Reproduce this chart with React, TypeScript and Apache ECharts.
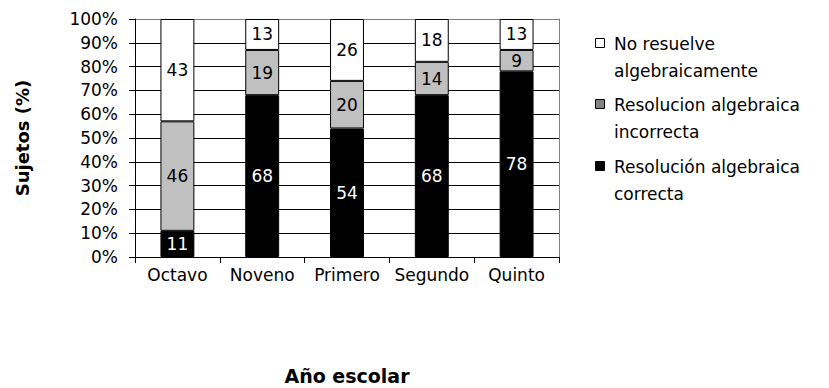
import React, { useEffect, useRef } from "react";
import * as echarts from "echarts";

// School years on the category axis
const categories = ["Octavo", "Noveno", "Primero", "Segundo", "Quinto"];

// Percentage of subjects per answer type, stacked from the bottom up
const correcta = [11, 68, 54, 68, 78];
const incorrecta = [46, 19, 20, 14, 9];
const noResuelve = [43, 13, 26, 18, 13];

// Legend entries, listed top to bottom
const legendNames = [
  ["No resuelve", "algebraicamente"],
  ["Resolucion algebraica", "incorrecta"],
  ["Resolución algebraica", "correcta"],
];
const legendColors = ["#ffffff", "#808080", "#000000"];

const yTicks = [0, 100, 10];

const FONT = "DejaVu Sans";

export default function App() {
  const ref = useRef<HTMLDivElement>(null);

  useEffect(() => {
    document.body.style.margin = "0";
    const chart = echarts.init(ref.current!, null, { renderer: "svg" });

    const barBase = {
      type: "bar" as const,
      stack: "total",
      barWidth: "40%",
      label: {
        show: true,
        position: "inside" as const,
        fontFamily: FONT,
        fontSize: 17,
      },
    };

    const splitColors = Array.from({ length: 11 }, (_, i) => (i === 10 ? "#808080" : "#000000"));

    const legendGraphics: any[] = [];
    const tops = [43, 104, 166];
    legendNames.forEach((lines, i) => {
      legendGraphics.push({
        type: "rect",
        shape: { x: 595.5, y: tops[i] - 4.5, width: 9, height: 9 },
        style: { fill: legendColors[i], stroke: "#000", lineWidth: 1 },
      });
      legendGraphics.push({
        type: "text",
        x: 614,
        y: tops[i] - 13,
        style: {
          text: lines.join("\n"),
          fontFamily: FONT,
          fontSize: 17,
          lineHeight: 27,
          fill: "#000",
          verticalAlign: "top",
        },
      });
    });

    chart.setOption({
      animation: false,
      backgroundColor: "#ffffff",
      grid: {
        left: 135,
        right: 270,
        top: 19,
        bottom: 131,
        containLabel: false,
        outerBoundsMode: "none",
      },
      xAxis: {
        type: "category",
        data: categories,
        boundaryGap: true,
        axisLine: { lineStyle: { color: "#000", width: 1 } },
        axisTick: { show: true, length: 6, lineStyle: { color: "#000" } },
        axisLabel: { color: "#000", fontFamily: FONT, fontSize: 17, margin: 9, interval: 0 },
        name: "Año escolar",
        nameLocation: "middle",
        nameGap: 109,
        nameTextStyle: { color: "#000", fontFamily: FONT, fontSize: 19, fontWeight: "bold" },
      },
      yAxis: [
        {
          type: "value",
          min: yTicks[0],
          max: yTicks[1],
          interval: yTicks[2],
          axisLine: { show: true, lineStyle: { color: "#000", width: 1 } },
          axisTick: { show: true, length: 6, lineStyle: { color: "#000" } },
          axisLabel: {
            color: "#000",
            fontFamily: FONT,
            fontSize: 17,
            margin: 17,
            formatter: "{value}%",
          },
          splitLine: { show: true, lineStyle: { color: splitColors, width: 1 } },
          name: "Sujetos (%)",
          nameLocation: "middle",
          nameGap: 104,
          nameRotate: 90,
          nameTextStyle: { color: "#000", fontFamily: FONT, fontSize: 18, fontWeight: "bold" },
        },
        {
          type: "value",
          position: "right",
          min: yTicks[0],
          max: yTicks[1],
          interval: yTicks[2],
          axisLine: { show: true, lineStyle: { color: "#808080", width: 1 } },
          axisTick: { show: false },
          axisLabel: { show: false },
          splitLine: { show: false },
        },
      ],
      series: [
        {
          ...barBase,
          name: "Resolución algebraica correcta",
          data: correcta,
          itemStyle: { color: "#000000", borderColor: "#000", borderWidth: 1 },
          label: { ...barBase.label, color: "#ffffff" },
        },
        {
          ...barBase,
          name: "Resolucion algebraica incorrecta",
          data: incorrecta,
          itemStyle: { color: "#c0c0c0", borderColor: "#000", borderWidth: 1 },
          label: { ...barBase.label, color: "#000000" },
        },
        {
          ...barBase,
          name: "No resuelve algebraicamente",
          data: noResuelve,
          itemStyle: { color: "#ffffff", borderColor: "#000", borderWidth: 1 },
          label: { ...barBase.label, color: "#000000" },
        },
      ],
      graphic: legendGraphics,
    });

    return () => chart.dispose();
  }, []);

  return <div ref={ref} style={{ width: 829, height: 388 }} />;
}
